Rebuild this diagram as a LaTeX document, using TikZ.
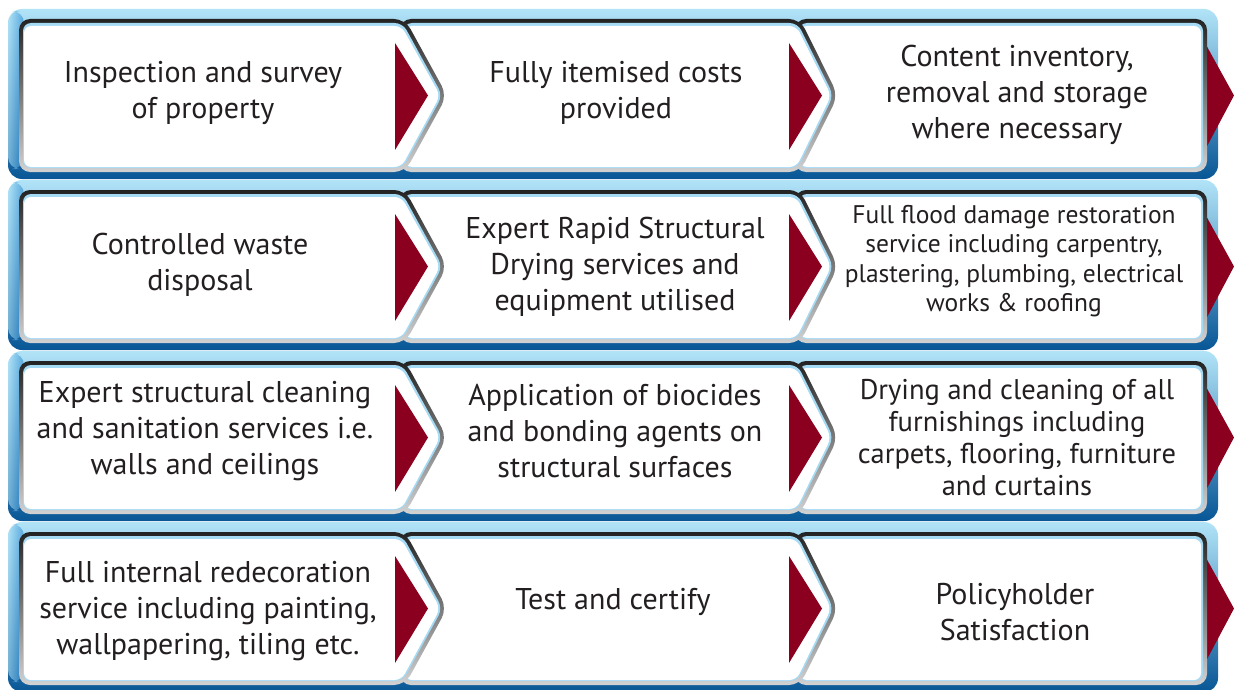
\documentclass[tikz,border=0pt]{standalone}
\usepackage{fontspec}
\setmainfont{PT Sans}
\definecolor{bandTop}{RGB}{178,228,248}
\definecolor{bandMid}{RGB}{32,132,206}
\definecolor{bandBot}{RGB}{8,86,150}
\definecolor{rimTop}{RGB}{35,35,35}
\definecolor{rimBot}{RGB}{210,210,210}
\definecolor{glow}{RGB}{165,218,245}
\definecolor{arrowRed}{RGB}{139,0,30}
\definecolor{ink}{RGB}{35,31,32}
% one white step box: left x, diagonal start x, tip x, top y
\newcommand{\stepbox}[4]{%
  \pgfmathsetmacro{\ym}{#4+76.5}
  \pgfmathsetmacro{\yb}{#4+153}
  \pgfmathsetmacro{\kt}{ifthenelse(#3>#2,1.14,1)}
  \pgfmathsetmacro{\kd}{ifthenelse(#3>#2,0.59,1)}
  \shade[rounded corners=11pt, top color=rimTop, bottom color=rimBot]
    (#1,#4) -- (#2,#4) -- (#3,\ym) -- (#2,\yb) -- (#1,\yb) -- cycle;
  \fill[glow, rounded corners=8pt]
    ({#1+4},{#4+4}) -- ({#2-4*\kd},{#4+4}) -- ({#3-4*\kt},\ym)
    -- ({#2-4*\kd},{\yb-4}) -- ({#1+4},{\yb-4}) -- cycle;
  \fill[white, rounded corners=7pt]
    ({#1+5},{#4+7}) -- ({#2-6*\kd},{#4+7}) -- ({#3-6*\kt},\ym)
    -- ({#2-6*\kd},{\yb-5}) -- ({#1+5},{\yb-5}) -- cycle;
}
\begin{document}
\begin{tikzpicture}[x=1pt, y=-1pt,
    txt/.style={align=center, text=ink, font=\fontsize{30}{36}\selectfont},
    midtxt/.style={font=\fontsize{28.5}{32}\selectfont},
    smalltxt/.style={font=\fontsize{25.5}{29.5}\selectfont}]
  \useasboundingbox (0,0) rectangle (1234,690);
  \foreach \rowtop in {19,190,361,532} {
    % blue band
    \shade[rounded corners=14pt, top color=bandTop, middle color=bandMid, bottom color=bandBot]
      (8,\rowtop-10) rectangle (1218,\rowtop+160);
    \shade[rounded corners=12pt, left color=bandTop, right color=bandMid, opacity=0.6]
      (8,\rowtop-8) rectangle (24,\rowtop+150);
    % arrow out of the row
    \fill[arrowRed] (1205,\rowtop+24) -- (1234,\rowtop+76.5) -- (1205,\rowtop+131) -- cycle;
    \stepbox{795}{1207}{1207}{\rowtop}
    \stepbox{400}{800}{838}{\rowtop}
    \fill[arrowRed] (789,\rowtop+24) -- (822,\rowtop+76.5) -- (789,\rowtop+131) -- cycle;
    \stepbox{19}{405}{447}{\rowtop}
    \fill[arrowRed] (395,\rowtop+24) -- (428,\rowtop+76.5) -- (395,\rowtop+131) -- cycle;
  }
  % row 1
  \node[txt] (inspect) at (203,93) {Inspection and survey\\of property};
  \node[txt] (costs) at (616,93) {Fully itemised costs\\provided};
  \node[txt] (content) at (1017,95) {Content inventory,\\removal and storage\\where necessary};
  % row 2
  \node[txt] (waste) at (200,265) {Controlled waste\\disposal};
  \node[txt] (drying) at (615,267) {Expert Rapid Structural\\Drying services and\\equipment utilised};
  \node[txt, smalltxt] (flood) at (1014,261) {Full flood damage restoration\\service including carpentry,\\plastering, plumbing, electrical\\works \& roofing};
  % row 3
  \node[txt] (cleaning) at (205,431) {Expert structural cleaning\\and sanitation services i.e.\\walls and ceilings};
  \node[txt] (biocides) at (615,431) {Application of biocides\\and bonding agents on\\structural surfaces};
  \node[txt, midtxt] (furnish) at (1017,438) {Drying and cleaning of all\\furnishings including\\carpets, flooring, furniture\\and curtains};
  % row 4
  \node[txt] (redeco) at (208,611) {Full internal redecoration\\service including painting,\\wallpapering, tiling etc.};
  \node[txt] (certify) at (613,602) {Test and certify};
  \node[txt] (satisfy) at (1015,612) {Policyholder\\Satisfaction};
\end{tikzpicture}
\end{document}
